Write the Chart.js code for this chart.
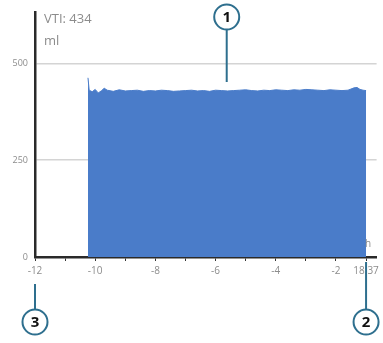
<!DOCTYPE html>
<html><head><meta charset="utf-8">
<script src="https://cdn.jsdelivr.net/npm/chart.js@4/dist/chart.umd.min.js"></script>
<style>html,body{margin:0;padding:0;background:#fff}#wrap{position:relative;width:383px;height:343px}</style>
</head><body><div id="wrap"><canvas id="c" width="383" height="343"></canvas></div>
<script>
const hours = [-10.24,-10.2,-10.1,-10.0,-9.9,-9.8,-9.7,-9.6,-9.4,-9.2,-9.0,-8.8,-8.6,-8.4,-8.2,-8.0,-7.8,-7.6,-7.4,-7.2,-7.0,-6.8,-6.6,-6.4,-6.2,-6.0,-5.8,-5.6,-5.4,-5.2,-5.0,-4.8,-4.6,-4.4,-4.2,-4.0,-3.8,-3.6,-3.4,-3.2,-3.0,-2.8,-2.6,-2.4,-2.2,-2.0,-1.8,-1.6,-1.4,-1.3,-1.2,-1.1,-1.0];
const volume = [463,431,427,433,424,429,436,431,428,432,429,430,431,428,430,429,431,430,428,429,430,431,429,430,428,431,430,429,430,431,432,430,429,431,430,432,431,430,432,431,433,432,431,430,432,431,430,431,437,438,433,431,430];
const yTicks = [0,250,500];
const xTickValues = [-12,-11,-10,-9,-8,-7,-6,-5,-4,-3,-2,-1];
const xTickLabels = ['-12','','-10','','-8','','-6','','-4','','-2','18:37'];
const vtiText = 'VTI: 434';
const unitText = 'ml';
const axisUnit = 'h';
const callouts = [
  {num:'1', x:-5.63, cy:17, lineFrom:29, lineTo:82},
  {num:'2', x:-1, cy:322, lineFrom:262, lineTo:309},
  {num:'3', x:-12, cy:322, lineFrom:284, lineTo:309}
];

const overlay = {
  id:'overlay',
  afterDraw(chart){
    const ctx = chart.ctx, xs = chart.scales.x;
    ctx.save();
    ctx.fillStyle = '#8c8c8c';
    ctx.font = '13px "Open Sans"';
    ctx.textBaseline = 'alphabetic';
    ctx.textAlign = 'left';
    ctx.fillText(vtiText, 44, 23);
    ctx.fillText(unitText, 44, 45);
    ctx.font = '10px "Open Sans"';
    ctx.fillText(axisUnit, 365, 247);
    callouts.forEach(c=>{
      const px = xs.getPixelForValue(c.x);
      ctx.strokeStyle = '#2e6f8e';
      ctx.lineWidth = 2;
      ctx.beginPath(); ctx.moveTo(px, c.lineFrom); ctx.lineTo(px, c.lineTo); ctx.stroke();
      ctx.beginPath(); ctx.arc(px, c.cy, 12.5, 0, Math.PI*2);
      ctx.fillStyle = '#fff'; ctx.fill(); ctx.stroke();
      ctx.fillStyle = '#111';
      ctx.font = 'bold 15px "Open Sans"';
      ctx.textAlign = 'center'; ctx.textBaseline = 'middle';
      ctx.fillText(c.num, px, c.cy + 1);
    });
    ctx.restore();
  }
};

new Chart(document.getElementById('c'), {
  type:'line',
  data:{
    datasets:[{
      data: hours.map((h,i)=>({x:h, y:volume[i]})),
      borderColor:'#4a7cc9', backgroundColor:'#4a7cc9',
      borderWidth:1, pointRadius:0, fill:'origin', tension:0
    }]
  },
  options:{
    responsive:false, animation:false,
    layout:{padding:{top:3,right:6,left:0,bottom:0}},
    plugins:{legend:{display:false}, tooltip:{enabled:false}},
    scales:{
      x:{
        type:'linear', min:-12, max:-0.65,
        afterBuildTicks(s){ s.ticks = xTickValues.map(v=>({value:v})); },
        afterFit(s){ s.height = 86; },
        ticks:{
          autoSkip:false, maxRotation:0, padding:4,
          color:'#8c8c8c', font:{family:'Open Sans', size:10},
          callback(v){ const i = xTickValues.indexOf(v); return i>=0 ? xTickLabels[i] : ''; }
        },
        grid:{drawOnChartArea:false, color:'#333', tickLength:4, lineWidth:1},
        border:{color:'#2a2a2a', width:2.5}
      },
      y:{
        min:0, max:632,
        afterBuildTicks(s){ s.ticks = yTicks.map(v=>({value:v})); },
        afterFit(s){ s.width = 35; },
        ticks:{color:'#8c8c8c', font:{family:'Open Sans', size:9}, padding:7},
        grid:{color:c=> c.tick && c.tick.value===0 ? 'rgba(0,0,0,0)' : '#d4d4d4', lineWidth:1.5, drawTicks:false},
        border:{color:'#2a2a2a', width:2.5}
      }
    }
  },
  plugins:[overlay]
});
</script>
</body></html>
